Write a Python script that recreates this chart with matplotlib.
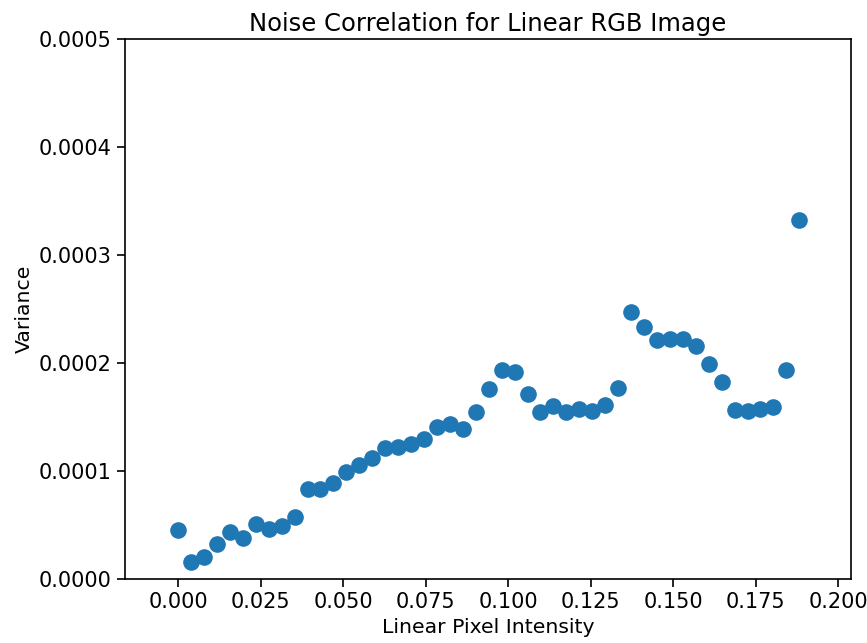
import numpy as np
import matplotlib
matplotlib.use('Agg')
import matplotlib.pyplot as plt

# pixel intensity steps of 1/255
steps = np.arange(49)
intensity = steps / 255.0

variance = [
    0.0000454, 0.0000157, 0.0000204, 0.0000324, 0.0000435, 0.0000380, 0.0000509,
    0.0000463, 0.0000491, 0.0000574, 0.0000833, 0.0000833, 0.0000889, 0.0000991,
    0.0001056, 0.0001120, 0.0001213, 0.0001222, 0.0001250, 0.0001296, 0.0001407,
    0.0001435, 0.0001389, 0.0001546, 0.0001759, 0.0001935, 0.0001917, 0.0001713,
    0.0001546, 0.0001602, 0.0001546, 0.0001574, 0.0001556, 0.0001611, 0.0001769,
    0.0002472, 0.0002333, 0.0002213, 0.0002222, 0.0002222, 0.0002157, 0.0001991,
    0.0001824, 0.0001565, 0.0001556, 0.0001574, 0.0001593, 0.0001935, 0.0003324,
]

fig = plt.figure(figsize=(8.67, 6.43), dpi=100)
ax = fig.add_axes([0.1442, 0.0995, 0.8373, 0.8398])
ax.scatter(intensity, variance, s=120, color='#1f77b4')

ax.set_xlim(-0.0161, 0.2039)
ax.set_ylim(0, 0.0005)
ax.set_xticks(np.arange(0, 0.2001, 0.025))
ax.set_yticks(np.arange(0, 0.00051, 0.0001))
ax.set_yticklabels(['0.0000', '0.0001', '0.0002', '0.0003', '0.0004', '0.0005'])
ax.tick_params(labelsize=15, length=6, width=1.2)
for sp in ax.spines.values():
    sp.set_linewidth(1.2)

ax.set_title('Noise Correlation for Linear RGB Image', fontsize=17.5)
ax.set_xlabel('Linear Pixel Intensity', fontsize=14.7)
ax.set_ylabel('Variance', fontsize=14.7)

fig.savefig('out.png', dpi=100)
